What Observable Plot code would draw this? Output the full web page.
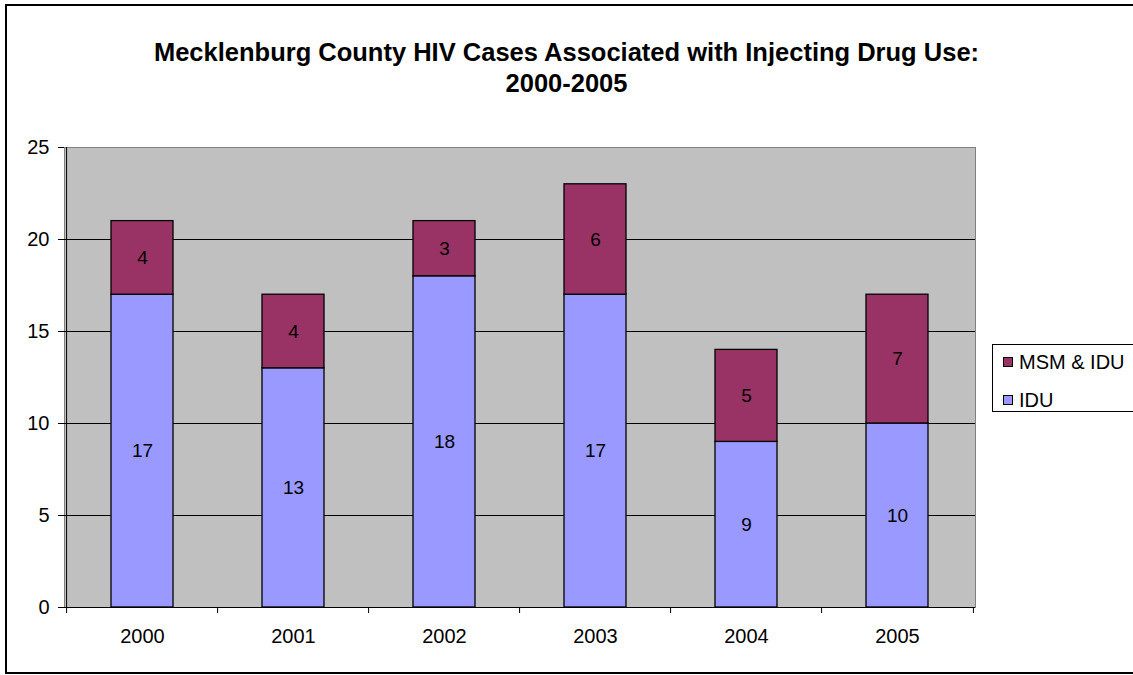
<!DOCTYPE html>
<html>
<head>
<meta charset="utf-8">
<script src="https://cdn.jsdelivr.net/npm/d3@7"></script>
<script src="https://cdn.jsdelivr.net/npm/@observablehq/plot@0.6"></script>
<style>
  html, body { margin: 0; padding: 0; background: #fff; }
  #wrap { position: relative; width: 1133px; height: 675px; overflow: hidden; font-family: "Liberation Sans", Arial, sans-serif; }
  #border { position: absolute; left: 5px; top: 4px; width: 1140px; height: 666px; border-left: 2px solid #000; border-top: 2px solid #000; border-bottom: 2px solid #000; }
  #title { position: absolute; left: 0; width: 1133px; top: 37px; text-align: center; font-weight: bold; font-size: 25.5px; line-height: 31px; color: #000; white-space: nowrap; }
  #legend { position: absolute; left: 992px; top: 344px; width: 160px; height: 66px; border: 1px solid #000; background: #fff; font-size: 20px; }
  .item { position: absolute; left: 10px; display: flex; align-items: center; height: 24px; }
  .sw { width: 8px; height: 8px; border: 1px solid #000; margin-right: 6px; }
  #chart { position: absolute; left: 0; top: 0; }
</style>
</head>
<body>
<div id="wrap">
  <div id="chart"></div>
  <div id="border"></div>
  <div id="title">Mecklenburg County HIV Cases Associated with Injecting Drug Use:<br>2000-2005</div>
  <div id="legend"></div>
</div>
<script>
const years = ["2000", "2001", "2002", "2003", "2004", "2005"];
const idu = [17, 13, 18, 17, 9, 10];
const msmIdu = [4, 4, 3, 6, 5, 7];
const seriesNames = ["MSM & IDU", "IDU"];
const seriesColors = ["#993366", "#9999FF"];
const yTicks = [0, 5, 10, 15, 20, 25];
const gridValues = [5, 10, 15, 20];

const data = [];
years.forEach((y, i) => data.push({year: y, series: "IDU", value: idu[i]}));
years.forEach((y, i) => data.push({year: y, series: "MSM & IDU", value: msmIdu[i]}));

const W = 1133, H = 675;
const mL = 64, mR = 158, mT = 147, mB = 68;
const frameW = W - mL - mR, frameH = H - mT - mB;
const halfStep = frameW / years.length / 2;

const chart = Plot.plot({
  width: W,
  height: H,
  marginLeft: mL,
  marginRight: mR,
  marginTop: mT,
  marginBottom: mB,
  style: {fontFamily: "Liberation Sans, Arial, sans-serif", fontSize: "20px", color: "#000", background: "transparent"},
  x: {domain: years, paddingInner: 0.59, paddingOuter: 0.295, label: null},
  y: {domain: [0, 25], label: null},
  color: {domain: seriesNames, range: seriesColors},
  marks: [
    Plot.frame({fill: "#C0C0C0", stroke: "#808080"}),
    Plot.ruleY(gridValues, {stroke: "#000", strokeWidth: 1}),
    Plot.barY(data, Plot.stackY({x: "year", y: "value", z: "series", fill: "series", stroke: "#000", strokeWidth: 1.3})),
    Plot.text(data, Plot.stackY({x: "year", y: "value", z: "series", text: "value", fill: "#000", fontSize: 19})),
    Plot.axisY(yTicks, {tickSize: 6, tickPadding: 9, fontSize: 20, stroke: "#000"}),
    Plot.ruleX([years[0]], {x: d => d, dx: -halfStep, stroke: "#000"}),
    Plot.ruleY([0], {stroke: "#000"}),
    Plot.axisX({tickSize: 0, tickPadding: 21, fontSize: 20}),
    Plot.ruleX(years, {x: d => d, dx: -halfStep, stroke: "#000", insetTop: frameH, insetBottom: -6}),
    Plot.ruleX([years[years.length - 1]], {x: d => d, dx: halfStep, stroke: "#000", insetTop: frameH, insetBottom: -6})
  ]
});
document.getElementById("chart").appendChild(chart);

const leg = document.getElementById("legend");
seriesNames.forEach((name, i) => {
  const it = document.createElement("div");
  it.className = "item";
  it.style.top = (i === 0 ? 5 : 43) + "px";
  const sw = document.createElement("div");
  sw.className = "sw";
  sw.style.background = seriesColors[i];
  const tx = document.createElement("span");
  tx.textContent = name;
  it.appendChild(sw);
  it.appendChild(tx);
  leg.appendChild(it);
});
</script>
</body>
</html>
